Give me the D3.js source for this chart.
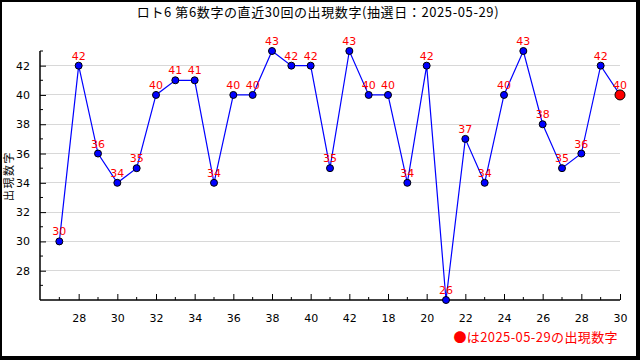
<!DOCTYPE html>
<html><head><meta charset="utf-8">
<script src="https://cdn.jsdelivr.net/npm/d3@7"></script>
<style>body{margin:0;background:#fff}svg{display:block}</style>
</head><body>
<svg id="c" width="640" height="360"></svg>
<script>
const titleText = "ロト6 第6数字の直近30回の出現数字(抽選日：2025-05-29)";
const yLabel = "出現数字";
const legendText = "●は2025-05-29の出現数字";
const values = [30,42,36,34,35,40,41,41,34,40,40,43,42,42,35,43,40,40,34,42,26,37,34,40,43,38,35,36,42,40];
const xTickLabels = ["28","30","32","34","36","38","40","42","18","20","22","24","26","28","30"];
const yTicks = [28,30,32,34,36,38,40,42];

const svg = d3.select("#c");
const font = "'Noto Sans CJK JP', sans-serif";
svg.append("rect").attr("width",640).attr("height",360).attr("fill","#000");
svg.append("rect").attr("x",2).attr("y",2).attr("width",634).attr("height",354).attr("fill","#fff");

const L=40, R=620, T=51, B=300;
const x = d3.scaleLinear().domain([0, values.length]).range([L, R]);
const y = d3.scaleLinear().domain([26, 43]).range([B, T]);

// grid
svg.append("g").selectAll("line").data(yTicks).join("line")
  .attr("x1", L).attr("x2", R).attr("y1", d=>y(d)).attr("y2", d=>y(d))
  .attr("stroke","#d8d8d8").attr("stroke-width",1).attr("shape-rendering","crispEdges");

// y axis
const yMinor = d3.range(27, 44, 2);
const gy = svg.append("g").attr("transform",`translate(${L},0)`);
gy.call(d3.axisLeft(y).tickValues(yTicks).tickSize(-6).tickPadding(10).tickFormat(d3.format("d")));
gy.selectAll(".tick line").attr("stroke","#000");
gy.select(".domain").attr("d", `M0,${T}V${B}`).attr("stroke","#000").attr("stroke-width",1.5);
gy.selectAll("text").attr("font-family","'DejaVu Sans', sans-serif").attr("font-size",11).attr("fill","#000");
gy.append("g").selectAll("line").data(yMinor).join("line")
  .attr("x1",0).attr("x2",3).attr("y1",d=>y(d)).attr("y2",d=>y(d)).attr("stroke","#000");

// x axis
const xMajor = xTickLabels.map((_, i) => 2*(i+1));
const xMinor = d3.range(1, values.length+1, 2);
const gx = svg.append("g").attr("transform",`translate(0,${B})`);
gx.call(d3.axisBottom(x).tickValues(xMajor).tickSize(-6).tickPadding(14).tickFormat((d,i)=>xTickLabels[i]));
gx.selectAll(".tick line").attr("stroke","#000");
gx.select(".domain").attr("d", `M${L},0H${R}`).attr("stroke","#000").attr("stroke-width",1.5);
gx.selectAll("text").attr("font-family","'DejaVu Sans', sans-serif").attr("font-size",11).attr("fill","#000");
gx.append("g").selectAll("line").data(xMinor).join("line")
  .attr("x1",d=>x(d)).attr("x2",d=>x(d)).attr("y1",0).attr("y2",-3).attr("stroke","#000");

// line
const pts = values.map((v,i)=>({i:i+1, v}));
svg.append("path").datum(pts)
  .attr("d", d3.line().x(d=>x(d.i)).y(d=>y(d.v)))
  .attr("fill","none").attr("stroke","#0000ff").attr("stroke-width",1.2);

// points
const last = pts.length;
svg.append("g").selectAll("circle").data(pts).join("circle")
  .attr("cx",d=>x(d.i)).attr("cy",d=>y(d.v))
  .attr("r",d=>d.i===last?5:3.5)
  .attr("fill",d=>d.i===last?"#ff0000":"#0000ff")
  .attr("stroke","#000").attr("stroke-width",1);

// labels
svg.append("g").selectAll("text").data(pts).join("text")
  .attr("x",d=>x(d.i)).attr("y",d=>y(d.v)-6)
  .attr("text-anchor","middle").attr("fill","#ff0000")
  .attr("font-family","'DejaVu Sans', sans-serif").attr("font-size",11)
  .text(d=>d.v);

// title
svg.append("text").attr("x",318).attr("y",17).attr("text-anchor","middle")
  .attr("font-family",font).attr("font-size",13).attr("letter-spacing",0.6)
  .attr("fill","#000").text(titleText);

// y label
svg.append("text").attr("transform","translate(13,176) rotate(-90)").attr("text-anchor","middle")
  .attr("font-family",font).attr("font-size",11).attr("letter-spacing",1.5)
  .attr("fill","#000").text(yLabel);

// legend
svg.append("text").attr("x",618).attr("y",342).attr("text-anchor","end")
  .attr("font-family",font).attr("font-size",13).attr("letter-spacing",0.4)
  .attr("fill","#ff0000").text(legendText);
</script>
</body></html>
